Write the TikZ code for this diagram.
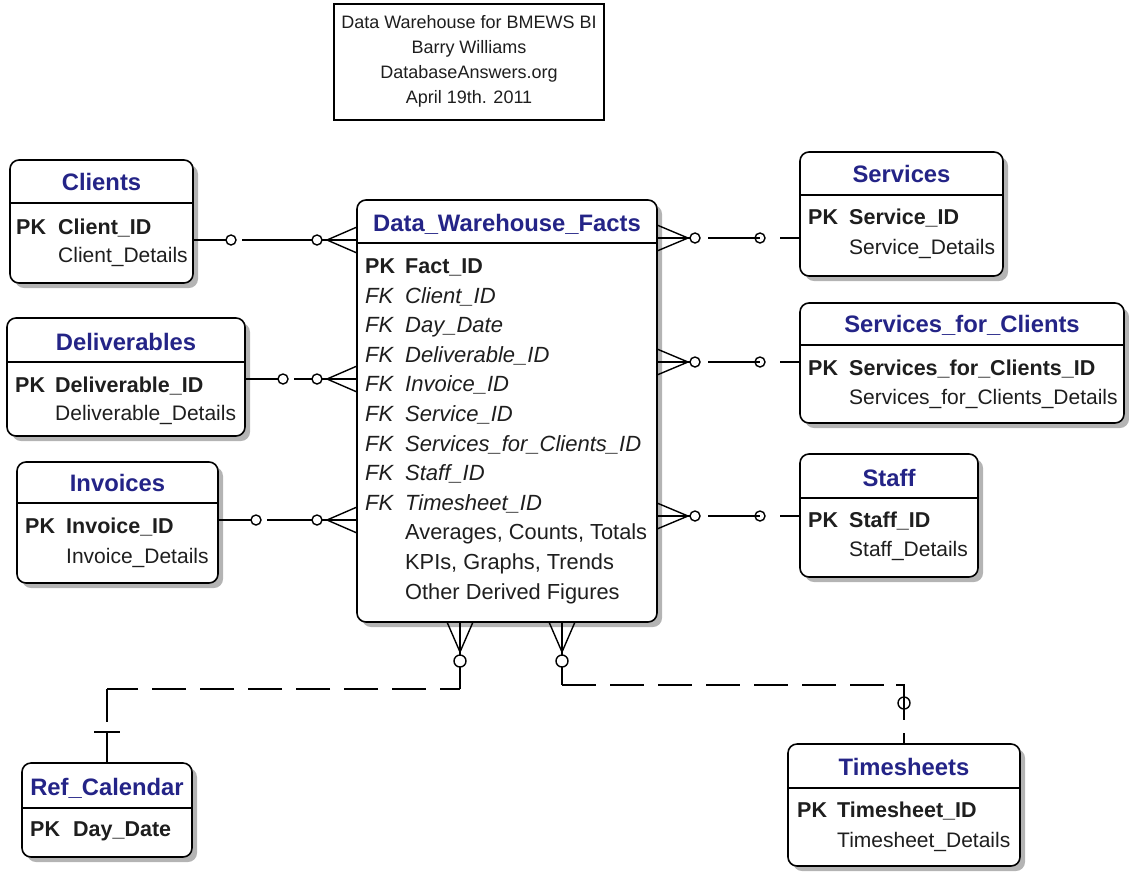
\documentclass[tikz,border=0pt]{standalone}
\usepackage{fontspec}
\setmainfont{Liberation Sans}
\usetikzlibrary{shadows,calc}
\definecolor{ttlc}{RGB}{36,36,135}
\definecolor{txtc}{RGB}{30,30,30}
\definecolor{shdc}{RGB}{180,180,180}
\tikzset{
  ent/.style={draw=black, line width=1.6pt, fill=white, rounded corners=9pt,
    inner sep=0pt, outer sep=0pt, anchor=north west,
    drop shadow={shadow xshift=5pt, shadow yshift=-5pt, fill=shdc, opacity=1}},
  hdrbox/.style={draw=black, line width=1.5pt, fill=white, inner sep=0pt, outer sep=0pt, anchor=north west},
  ttl/.style={font=\fontsize{23.8}{28}\selectfont\bfseries, text=ttlc, inner sep=0pt, anchor=base},
  fld/.style={font=\fontsize{21}{25}\selectfont, text=txtc, inner sep=0pt, anchor=base west},
  pkf/.style={fld, font=\fontsize{21.5}{25}\selectfont\bfseries},
  fkf/.style={fld, font=\fontsize{22}{25}\selectfont\itshape},
  ffl/.style={fld, font=\fontsize{21.8}{25}\selectfont},
  hdr/.style={font=\fontsize{18}{22}\selectfont, text=txtc, inner sep=0pt, anchor=base},
  sep/.style={line width=1.6pt},
  conn/.style={line width=1.4pt, black},
  dashc/.style={conn, dash pattern=on 34pt off 14pt},
}
\begin{document}
\begin{tikzpicture}[x=1pt, y=-1pt]
\useasboundingbox (0,0) rectangle (1129,871);

% ---------- title box ----------
\node[hdrbox, minimum width=270pt, minimum height=116pt] (info) at (334,4) {};
\node[hdr] (info1) at (469,28) {Data Warehouse for BMEWS BI};
\node[hdr] (info2) at (469,53) {Barry Williams};
\node[hdr] (info3) at (469,78) {DatabaseAnswers.org};
\node[hdr] (info4) at (469,103) {April 19th. 2011};

% ---------- Facts ----------
\node[ent, minimum width=300pt, minimum height=422pt] (facts) at (357,200) {};
\draw[sep] (facts.west |- 0,243) -- (facts.east |- 0,243);
\node[ttl] (factsT) at (507,231.5) {Data\_Warehouse\_Facts};
\node[pkf] (fk0a) at (365,273.5) {PK};
\node[pkf] (fk0b) at (405,273.5) {Fact\_ID};
\node[fkf] (fk1a) at (365,303.1) {FK};
\node[fkf] (fk1b) at (405,303.1) {Client\_ID};
\node[fkf] (fk2a) at (365,332.7) {FK};
\node[fkf] (fk2b) at (405,332.7) {Day\_Date};
\node[fkf] (fk3a) at (365,362.3) {FK};
\node[fkf] (fk3b) at (405,362.3) {Deliverable\_ID};
\node[fkf] (fk4a) at (365,391.9) {FK};
\node[fkf] (fk4b) at (405,391.9) {Invoice\_ID};
\node[fkf] (fk5a) at (365,421.5) {FK};
\node[fkf] (fk5b) at (405,421.5) {Service\_ID};
\node[fkf] (fk6a) at (365,451.1) {FK};
\node[fkf] (fk6b) at (405,451.1) {Services\_for\_Clients\_ID};
\node[fkf] (fk7a) at (365,480.7) {FK};
\node[fkf] (fk7b) at (405,480.7) {Staff\_ID};
\node[fkf] (fk8a) at (365,510.3) {FK};
\node[fkf] (fk8b) at (405,510.3) {Timesheet\_ID};
\node[ffl] (fa1) at (405,539.9) {Averages, Counts, Totals};
\node[ffl] (fa2) at (405,569.5) {KPIs, Graphs, Trends};
\node[ffl] (fa3) at (405,599.1) {Other Derived Figures};

% ---------- Clients ----------
\node[ent, minimum width=183pt, minimum height=123pt] (clients) at (10,160) {};
\draw[sep] (clients.west |- 0,203) -- (clients.east |- 0,203);
\node[ttl] (clientsT) at (101.5,190.5) {Clients};
\node[pkf] (clientsP) at (16,234.5) {PK};
\node[pkf] (clientsK) at (58,234.5) {Client\_ID};
\node[fld] (clientsD) at (58,262.5) {Client\_Details};

% ---------- Deliverables ----------
\node[ent, minimum width=238pt, minimum height=118pt] (deliv) at (7,318) {};
\draw[sep] (deliv.west |- 0,362) -- (deliv.east |- 0,362);
\node[ttl] (delivT) at (126,350.5) {Deliverables};
\node[pkf] (delivP) at (15,392.5) {PK};
\node[pkf] (delivK) at (55,392.5) {Deliverable\_ID};
\node[fld] (delivD) at (55,420.5) {Deliverable\_Details};

% ---------- Invoices ----------
\node[ent, minimum width=201pt, minimum height=121pt] (inv) at (17,462) {};
\draw[sep] (inv.west |- 0,503) -- (inv.east |- 0,503);
\node[ttl] (invT) at (117.5,491.5) {Invoices};
\node[pkf] (invP) at (25,533.5) {PK};
\node[pkf] (invK) at (66,533.5) {Invoice\_ID};
\node[fld] (invD) at (66,563.5) {Invoice\_Details};

% ---------- Ref_Calendar ----------
\node[ent, minimum width=170pt, minimum height=94pt] (cal) at (22,763) {};
\draw[sep] (cal.west |- 0,808) -- (cal.east |- 0,808);
\node[ttl] (calT) at (107,795.5) {Ref\_Calendar};
\node[pkf] (calP) at (30,836.5) {PK};
\node[pkf] (calK) at (73,836.5) {Day\_Date};

% ---------- Services ----------
\node[ent, minimum width=203pt, minimum height=124pt] (serv) at (800,152) {};
\draw[sep] (serv.west |- 0,195) -- (serv.east |- 0,195);
\node[ttl] (servT) at (901.5,182.5) {Services};
\node[pkf] (servP) at (808,224.5) {PK};
\node[pkf] (servK) at (849,224.5) {Service\_ID};
\node[fld] (servD) at (849,254.5) {Service\_Details};

% ---------- Services_for_Clients ----------
\node[ent, minimum width=324pt, minimum height=120pt] (sfc) at (800,303) {};
\draw[sep] (sfc.west |- 0,345) -- (sfc.east |- 0,345);
\node[ttl] (sfcT) at (962,332.5) {Services\_for\_Clients};
\node[pkf] (sfcP) at (808,375.5) {PK};
\node[pkf] (sfcK) at (849,375.5) {Services\_for\_Clients\_ID};
\node[fld] (sfcD) at (849,404.5) {Services\_for\_Clients\_Details};

% ---------- Staff ----------
\node[ent, minimum width=178pt, minimum height=123pt] (staff) at (800,454) {};
\draw[sep] (staff.west |- 0,498) -- (staff.east |- 0,498);
\node[ttl] (staffT) at (889,486.5) {Staff};
\node[pkf] (staffP) at (808,527.5) {PK};
\node[pkf] (staffK) at (849,527.5) {Staff\_ID};
\node[fld] (staffD) at (849,556.5) {Staff\_Details};

% ---------- Timesheets ----------
\node[ent, minimum width=232pt, minimum height=122pt] (ts) at (788,744) {};
\draw[sep] (ts.west |- 0,788) -- (ts.east |- 0,788);
\node[ttl] (tsT) at (904,775.5) {Timesheets};
\node[pkf] (tsP) at (797,817.5) {PK};
\node[pkf] (tsK) at (837,817.5) {Timesheet\_ID};
\node[fld] (tsD) at (837,847.5) {Timesheet\_Details};

% ---------- relation rows ----------
\coordinate (rCl) at (0,240);
\coordinate (rDe) at (0,379);
\coordinate (rIn) at (0,520);
\coordinate (rSe) at (0,238);
\coordinate (rSf) at (0,362);
\coordinate (rSt) at (0,516);

% left-hand relations: entity (one, optional) to facts (many, optional)
\foreach \ent/\row in {clients/rCl, deliv/rDe, inv/rIn}{
  \coordinate (a) at (\ent.east |- \row);
  \coordinate (b) at (facts.west |- \row);
  \draw[conn] (a) -- ($(a)+(33,0)$);
  \draw[conn] ($(a)+(38,0)$) circle (5pt);
  \draw[conn] ($(a)+(49,0)$) -- ($(b)+(-45,0)$);
  \draw[conn] ($(b)+(-40,0)$) circle (5pt);
  \draw[conn] ($(b)+(-35,0)$) -- (b);
  \draw[conn] ($(b)+(0,-13)$) -- ($(b)+(-30,0)$) -- ($(b)+(0,13)$);
}

% right-hand relations: facts (many, optional) to entity (one, optional)
\foreach \ent/\row in {serv/rSe, sfc/rSf, staff/rSt}{
  \coordinate (a) at (facts.east |- \row);
  \coordinate (b) at (\ent.west |- \row);
  \draw[conn] (a) -- ($(a)+(33,0)$);
  \draw[conn] ($(a)+(0,-13)$) -- ($(a)+(31,0)$) -- ($(a)+(0,13)$);
  \draw[conn] ($(a)+(38,0)$) circle (5pt);
  \draw[conn] ($(a)+(51,0)$) -- ($(b)+(-40,0)$);
  \draw[conn] ($(b)+(-40,0)$) circle (5pt);
  \draw[conn] ($(b)+(-20,0)$) -- (b);
}

% bottom: facts to Ref_Calendar
\coordinate (cA) at (460,622);
\coordinate (cK) at (460,689);
\coordinate (cL) at (cal.north |- cK);
\draw[conn] ($(cA)+(-13,0)$) -- ($(cA)+(0,30)$) -- ($(cA)+(13,0)$);
\draw[conn] (cA) -- ($(cA)+(0,33)$);
\draw[conn] ($(cA)+(0,39)$) circle (6pt);
\draw[conn] ($(cA)+(0,45)$) -- (cK);
\draw[dashc, dash phase=14pt] (cK) -- (cL);
\draw[conn] (cL) -- ($(cL)+(0,33)$);
\draw[conn] ($(cal.north)+(-13,-31)$) -- ($(cal.north)+(13,-31)$);
\draw[conn] ($(cal.north)+(0,-31)$) -- (cal.north);

% bottom: facts to Timesheets
\coordinate (tA) at (562,622);
\coordinate (tK) at (562,685);
\coordinate (tL) at (ts.north |- tK);
\draw[conn] ($(tA)+(-13,0)$) -- ($(tA)+(0,30)$) -- ($(tA)+(13,0)$);
\draw[conn] (tA) -- ($(tA)+(0,33)$);
\draw[conn] ($(tA)+(0,39)$) circle (6pt);
\draw[conn] ($(tA)+(0,45)$) -- (tK);
\draw[dashc] (tK) -- ($(tL)+(-18,0)$);
\draw[conn] ($(tL)+(-8,0)$) -- (tL) -- ($(tL)+(0,35)$);
\draw[conn] ($(tL)+(0,18)$) circle (6pt);
\draw[conn] ($(ts.north)+(0,-11)$) -- (ts.north);
\end{tikzpicture}
\end{document}
